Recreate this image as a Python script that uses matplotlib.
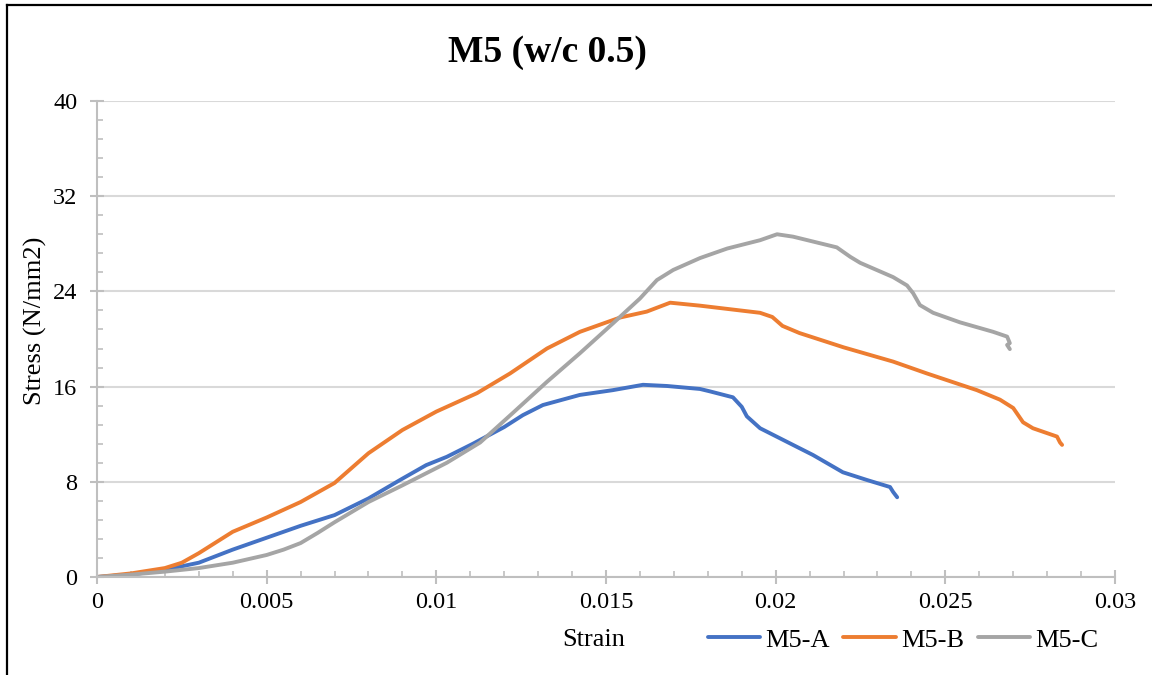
import numpy as np
import matplotlib.pyplot as plt
from matplotlib.ticker import MultipleLocator
from matplotlib.lines import Line2D

plt.rcParams['font.family'] = ['Liberation Serif', 'DejaVu Serif']

# strain / stress
strain_a = [0, 0.001, 0.002, 0.003, 0.004, 0.005, 0.006, 0.007, 0.0075, 0.008,
            0.00893, 0.0097, 0.01031, 0.01108, 0.012, 0.01255, 0.01314, 0.01423,
            0.0152, 0.01609, 0.0168, 0.01777, 0.01806, 0.01874, 0.0190, 0.01915,
            0.01954, 0.02051, 0.0211, 0.02198, 0.02269, 0.02337, 0.02346, 0.02358]
stress_a = [0, 0.2, 0.6, 1.2, 2.3, 3.3, 4.3, 5.2, 5.9, 6.6,
            8.15, 9.4, 10.1, 11.2, 12.6, 13.6, 14.45, 15.3,
            15.7, 16.15, 16.05, 15.8, 15.6, 15.1, 14.3, 13.5,
            12.5, 11.1, 10.25, 8.8, 8.15, 7.56, 7.15, 6.7]

strain_b = [0, 0.001, 0.002, 0.0025, 0.003, 0.0035, 0.004, 0.005, 0.006, 0.007,
            0.008, 0.009, 0.010, 0.0112, 0.01217, 0.01326, 0.01423, 0.01541,
            0.0162, 0.01689, 0.01777, 0.01954, 0.0199, 0.0202, 0.0207, 0.022,
            0.02346, 0.02446, 0.02593, 0.02661, 0.027, 0.02729, 0.02758, 0.02829,
            0.02838, 0.02844]
stress_b = [0, 0.3, 0.75, 1.2, 2.0, 2.9, 3.8, 5.0, 6.3, 7.9,
            10.4, 12.35, 13.9, 15.45, 17.1, 19.2, 20.6, 21.8,
            22.3, 23.05, 22.8, 22.2, 21.85, 21.1, 20.5, 19.3,
            18.1, 17.1, 15.7, 14.9, 14.2, 13.0, 12.5, 11.8,
            11.3, 11.1]

strain_c = [0, 0.001, 0.002, 0.003, 0.004, 0.005, 0.0055, 0.006, 0.0065, 0.007,
            0.008, 0.009, 0.010, 0.01031, 0.01129, 0.01226, 0.01326, 0.01423,
            0.0152, 0.016, 0.0165, 0.01698, 0.01777, 0.01857, 0.01954, 0.02004,
            0.02051, 0.0218, 0.0222, 0.02249, 0.02346, 0.02387, 0.02405, 0.02425,
            0.02464, 0.02543, 0.02641, 0.02682, 0.0269, 0.02682, 0.0269]
stress_c = [0, 0.2, 0.45, 0.75, 1.2, 1.85, 2.3, 2.85, 3.7, 4.6,
            6.3, 7.7, 9.15, 9.6, 11.3, 13.8, 16.4, 18.8,
            21.3, 23.4, 24.95, 25.8, 26.8, 27.6, 28.3, 28.8,
            28.6, 27.7, 26.9, 26.4, 25.2, 24.5, 23.85, 22.85,
            22.2, 21.4, 20.6, 20.2, 19.65, 19.5, 19.15]

series = [("M5-A", strain_a, stress_a, "#4472C4"),
          ("M5-B", strain_b, stress_b, "#ED7D31"),
          ("M5-C", strain_c, stress_c, "#A5A5A5")]

fig = plt.figure(figsize=(11.52, 6.75), dpi=100)
ax = fig.add_axes([0.0842, 0.1452, 0.8837, 0.7052])

for name, x, y, col in series:
    ax.plot(x, y, color=col, lw=2.8, label=name,
            solid_capstyle='round', solid_joinstyle='round')

ax.set_xlim(0, 0.03)
ax.set_ylim(0, 40)
ax.xaxis.set_major_locator(MultipleLocator(0.005))
ax.xaxis.set_minor_locator(MultipleLocator(0.001))
ax.yaxis.set_major_locator(MultipleLocator(8))
ax.yaxis.set_minor_locator(MultipleLocator(1.6))
ax.xaxis.set_major_formatter(plt.FuncFormatter(lambda v, p: f"{v:g}"))

ax.grid(axis='y', which='major', color='#D9D9D9', lw=1.5)
ax.set_axisbelow(True)
for s in ['top', 'right']:
    ax.spines[s].set_visible(False)
for s in ['left', 'bottom']:
    ax.spines[s].set_color('#BFBFBF')
    ax.spines[s].set_linewidth(1.5)

ax.tick_params(which='major', direction='inout', length=10, width=1.5,
               color='#BFBFBF', labelsize=17.5)
ax.tick_params(which='minor', direction='in', length=4, width=1.2, color='#BFBFBF')
ax.tick_params(axis='y', which='major', pad=9)
ax.tick_params(axis='x', which='major', pad=6)

ax.set_ylabel("Stress (N/mm2)", fontsize=19)
ax.yaxis.set_label_coords(-0.049, 0.538)
fig.text(0.475, 0.922, "M5 (w/c 0.5)", fontsize=27, fontweight='bold',
         ha='center', va='center')
fig.text(0.515, 0.052, "Strain", fontsize=19, ha='center', va='center')

fig.legend(loc='center', bbox_to_anchor=(0.784, 0.052), ncol=3, frameon=False,
           fontsize=19, handlelength=2.0, handletextpad=0.2, columnspacing=0.5)

# outer border, visible only on the left and top edges
fig.add_artist(Line2D([0.0065, 0.0065], [0, 0.993], color='black', lw=1.6,
                      transform=fig.transFigure))
fig.add_artist(Line2D([0.0065, 1.0], [0.993, 0.993], color='black', lw=1.6,
                      transform=fig.transFigure))

fig.savefig("out.png", dpi=100)
